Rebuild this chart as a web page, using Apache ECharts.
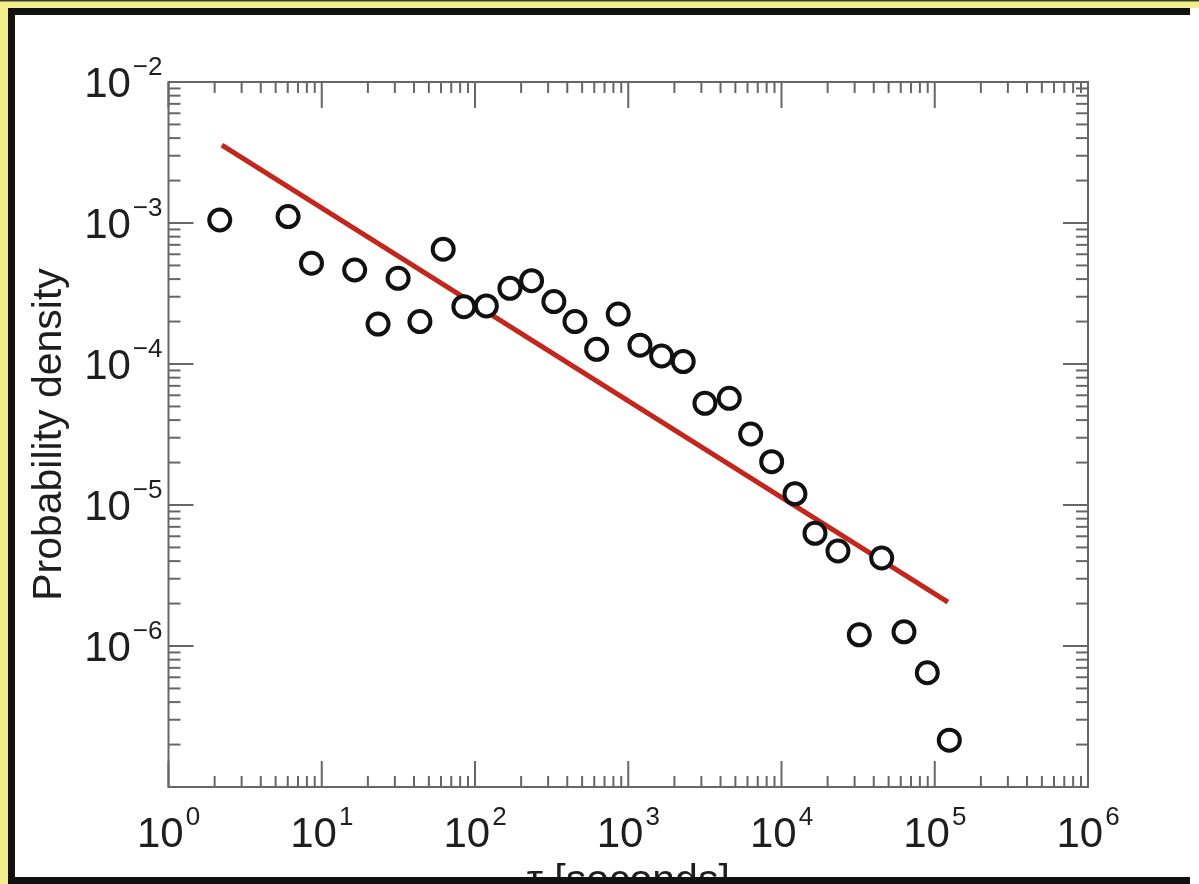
<!DOCTYPE html>
<html>
<head>
<meta charset="utf-8">
<script src="https://cdn.jsdelivr.net/npm/echarts@6/dist/echarts.min.js"></script>
<style>
  html, body { margin: 0; padding: 0; background: #ffffff; }
  #chart { width: 1199px; height: 884px; }
</style>
</head>
<body>
<div id="chart"></div>
<script>
// Measured inter-event times (seconds) and their probability density
const tauSeconds = [2.16, 6.03, 8.57, 16.4, 23.3, 31.5, 43.7, 62.0, 84.6, 118.6,
  169, 234, 327, 449, 622, 860, 1192, 1651, 2284, 3165,
  4560, 6290, 8626, 12240, 16540, 23360, 32180, 45050, 63000, 89420, 124450];
const density = [1.05e-3, 1.11e-3, 5.18e-4, 4.64e-4, 1.92e-4, 4.05e-4, 2.0e-4, 6.51e-4, 2.55e-4, 2.58e-4,
  3.44e-4, 3.90e-4, 2.77e-4, 2.0e-4, 1.27e-4, 2.26e-4, 1.36e-4, 1.14e-4, 1.04e-4, 5.26e-5,
  5.71e-5, 3.19e-5, 2.03e-5, 1.20e-5, 6.30e-6, 4.72e-6, 1.20e-6, 4.21e-6, 1.26e-6, 6.46e-7, 2.15e-7];

// Power-law fit, drawn between its two end points
const fitTau = [2.23, 121900];
const fitDensity = [3.57e-3, 2.05e-6];

// Axis ranges (decade exponents) and minor tick multipliers
const xDecades = [0, 1, 2, 3, 4, 5, 6];
const yDecades = [-7, -6, -5, -4, -3, -2];
const yLabelled = [-6, -5, -4, -3, -2];
const minorSteps = [2, 3, 4, 5, 6, 7, 8, 9];

const FONT = '"Liberation Sans", Arial, Helvetica, sans-serif';
const AXIS_GREY = '#666666';
const TEXT = '#1e1e1e';

function buildTicks(decades) {
  const ticks = [];
  decades.forEach(function (d, i) {
    ticks.push({ v: Math.pow(10, d), major: 1 });
    if (i < decades.length - 1) {
      minorSteps.forEach(function (m) { ticks.push({ v: m * Math.pow(10, d), major: 0 }); });
    }
  });
  return ticks;
}
const xTicks = buildTicks(xDecades);
const yTicks = buildTicks(yDecades);

function powerLabel(value, shown) {
  const e = Math.round(Math.log10(value));
  if (shown && shown.indexOf(e) < 0) return '';
  const exp = (e < 0 ? '\u2212' + (-e) : String(e));
  return '{b|10}{s|' + exp + '}';
}

// "10" sits in a tall line; the exponent is pinned near the line's top
const labelRich = {
  b: { fontSize: 42, fontFamily: FONT, color: TEXT, lineHeight: 60 },
  s: { fontSize: 26, fontFamily: FONT, color: TEXT, lineHeight: 14, verticalAlign: 'top', padding: [0, 0, 0, 2] }
};

const tickStyle = { stroke: AXIS_GREY, lineWidth: 2 };

function renderXTick(params, api) {
  const cs = params.coordSys;
  const px = api.coord([api.value(0), api.value(1)])[0];
  const len = api.value(2) ? 26 : 11;
  const yb = cs.y + cs.height;
  return {
    type: 'group',
    children: [
      { type: 'line', shape: { x1: px, y1: yb, x2: px, y2: yb - len }, style: tickStyle },
      { type: 'line', shape: { x1: px, y1: cs.y, x2: px, y2: cs.y + len }, style: tickStyle }
    ]
  };
}

function renderYTick(params, api) {
  const cs = params.coordSys;
  const py = api.coord([api.value(0), api.value(1)])[1];
  const len = api.value(2) ? 25 : 12;
  const xr = cs.x + cs.width;
  return {
    type: 'group',
    children: [
      { type: 'line', shape: { x1: cs.x, y1: py, x2: cs.x + len, y2: py }, style: tickStyle },
      { type: 'line', shape: { x1: xr, y1: py, x2: xr - len, y2: py }, style: tickStyle }
    ]
  };
}

const chart = echarts.init(document.getElementById('chart'), null, { renderer: 'canvas' });

chart.setOption({
  backgroundColor: '#ffffff',
  animation: false,
  grid: {
    left: 168.5, right: 111, top: 82, bottom: 97,
    outerBoundsMode: 'none', containLabel: false,
    show: true, borderColor: AXIS_GREY, borderWidth: 2, backgroundColor: 'transparent'
  },
  xAxis: {
    type: 'log', logBase: 10, min: 1, max: 1e6, splitNumber: 6,
    axisLine: { show: false }, axisTick: { show: false }, splitLine: { show: false },
    axisLabel: {
      margin: 18,
      formatter: function (v) { return powerLabel(v); },
      rich: labelRich
    },
    name: '\u03c4 [seconds]', nameLocation: 'middle', nameGap: 74,
    nameTextStyle: { fontSize: 41, fontFamily: FONT, color: TEXT }
  },
  yAxis: {
    type: 'log', logBase: 10, min: 1e-7, max: 1e-2, splitNumber: 5,
    axisLine: { show: false }, axisTick: { show: false }, splitLine: { show: false },
    axisLabel: {
      margin: 6,
      padding: [6, 0, 0, 0],
      formatter: function (v) { return powerLabel(v, yLabelled); },
      rich: labelRich
    },
    name: 'Probability density', nameLocation: 'middle', nameGap: 98,
    nameTextStyle: { fontSize: 41, fontFamily: FONT, color: TEXT }
  },
  series: [
    {
      type: 'custom', renderItem: renderXTick, silent: true, z: 1,
      encode: { x: 0, y: 1 },
      data: xTicks.map(function (t) { return [t.v, 1e-7, t.major]; })
    },
    {
      type: 'custom', renderItem: renderYTick, silent: true, z: 1,
      encode: { x: 0, y: 1 },
      data: yTicks.map(function (t) { return [1, t.v, t.major]; })
    },
    {
      type: 'line', z: 2, showSymbol: false, silent: true,
      lineStyle: { color: '#c3261c', width: 5, cap: 'butt' },
      data: fitTau.map(function (t, i) { return [t, fitDensity[i]]; })
    },
    {
      type: 'scatter', z: 3, symbol: 'circle', symbolSize: 21,
      itemStyle: { color: '#ffffff', borderColor: '#111111', borderWidth: 4, opacity: 1 },
      data: tauSeconds.map(function (t, i) { return [t, density[i]]; })
    }
  ],
  graphic: [
    // picture frame: pale yellow outer band, black inner band
    { type: 'rect', z: 100, shape: { x: 0, y: 0, width: 1199, height: 8 }, style: { fill: '#f2ee8e' } },
    { type: 'rect', z: 100, shape: { x: 0, y: 0, width: 8, height: 884 }, style: { fill: '#f2ee8e' } },
    { type: 'rect', z: 100, shape: { x: 0, y: 0, width: 1199, height: 1.5 }, style: { fill: '#3a3a2a' } },
    { type: 'rect', z: 101, shape: { x: 8, y: 8, width: 1182, height: 7 }, style: { fill: '#111111' } },
    { type: 'rect', z: 101, shape: { x: 8, y: 8, width: 7, height: 876 }, style: { fill: '#111111' } },
    { type: 'rect', z: 101, shape: { x: 8, y: 877, width: 1182, height: 7 }, style: { fill: '#111111' } }
  ]
});
</script>
</body>
</html>
